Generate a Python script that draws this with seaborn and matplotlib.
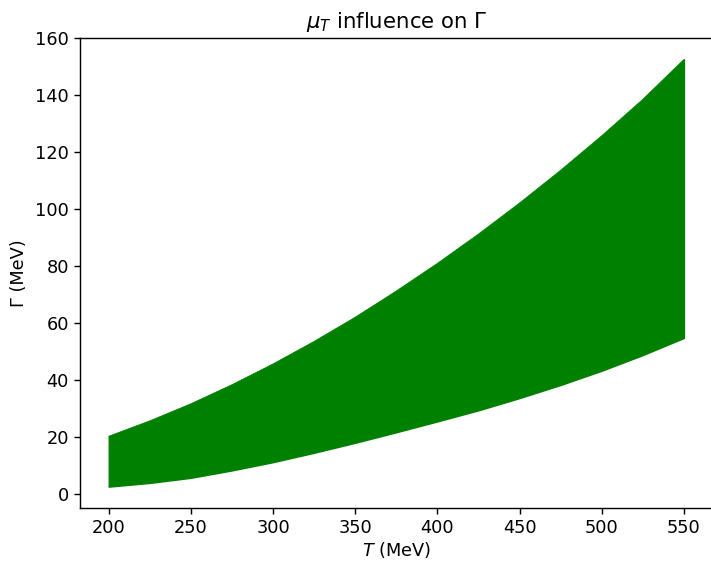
import matplotlib
matplotlib.use("Agg")
import matplotlib.pyplot as plt
import seaborn as sns
import pandas as pd

# Data
T_values = [200, 225, 250, 275, 300, 325, 350, 375, 400, 425, 450, 475, 500, 525, 550]
gamma_upper = [20.2, 25.6, 31.6, 38.3, 45.6, 53.5, 62.0, 71.2, 80.9, 91.2, 102.1, 113.6, 125.7, 138.5, 152.5]
gamma_lower = [2.5, 3.8, 5.6, 8.2, 11.1, 14.4, 17.9, 21.6, 25.4, 29.3, 33.6, 38.2, 43.2, 48.7, 54.7]

s = 1.275
sns.set_theme(style="ticks", rc={
    "axes.linewidth": 0.8 * s,
    "xtick.major.width": 0.8 * s,
    "ytick.major.width": 0.8 * s,
    "xtick.major.size": 3.5 * s,
    "ytick.major.size": 3.5 * s,
    "xtick.labelsize": 10 * s,
    "ytick.labelsize": 10 * s,
    "axes.labelsize": 10 * s,
    "axes.titlesize": 12 * s,
    "axes.edgecolor": "black",
    "xtick.color": "black",
    "ytick.color": "black",
    "text.color": "black",
    "axes.labelcolor": "black",
})
plt.rcParams["font.family"] = ["DejaVu Sans"]
plt.rcParams["mathtext.fontset"] = "dejavusans"

df = pd.DataFrame({"T": T_values, "upper": gamma_upper, "lower": gamma_lower})

fig = plt.figure(figsize=(7.11, 5.61), dpi=100)
ax = fig.add_axes([80 / 711, (561 - 508) / 561, 632.7 / 711, 470 / 561])

sns.lineplot(data=df, x="T", y="upper", ax=ax, color="green", linewidth=0.5)
sns.lineplot(data=df, x="T", y="lower", ax=ax, color="green", linewidth=0.5)
ax.fill_between(df["T"], df["lower"], df["upper"], color="green")

ax.set_xticks([200, 250, 300, 350, 400, 450, 500, 550])
ax.set_yticks([0, 20, 40, 60, 80, 100, 120, 140, 160])
ax.set_xlabel("$T$ (MeV)", labelpad=2)
ax.set_ylabel("Γ (MeV)", labelpad=5)
ax.set_title(r"$\mu_T$ influence on $\Gamma$", pad=7)
for sp in ax.spines.values():
    sp.set_visible(True)

fig.savefig("out.png", dpi=100)
